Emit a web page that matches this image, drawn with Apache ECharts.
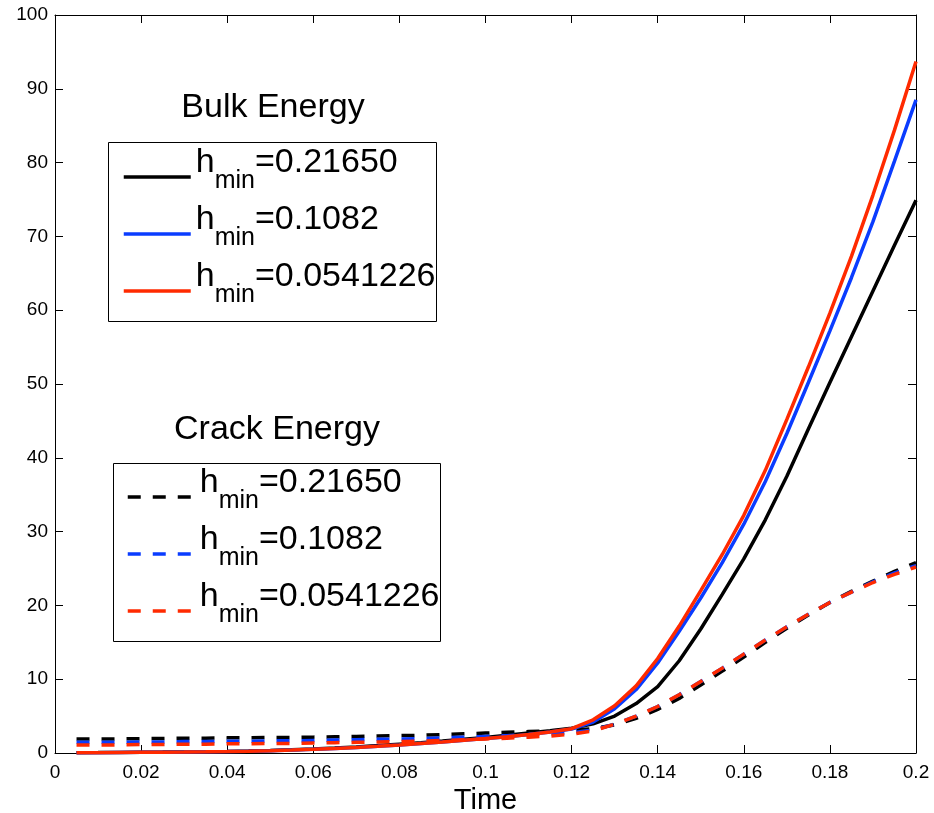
<!DOCTYPE html>
<html><head><meta charset="utf-8">
<script src="https://cdn.jsdelivr.net/npm/echarts@6/dist/echarts.min.js"></script>
<style>html,body{margin:0;padding:0;background:#fff}#c{width:934px;height:813px}</style>
</head><body><div id="c"></div>
<script>
const times = [0.005,0.01,0.015,0.02,0.025,0.03,0.035,0.04,0.045,0.05,0.055,0.06,0.065,0.07,0.075,0.08,0.085,0.09,0.095,0.1,0.105,0.11,0.115,0.12,0.125,0.13,0.135,0.14,0.145,0.15,0.155,0.16,0.165,0.17,0.175,0.18,0.185,0.19,0.195,0.2];
const bulkBlack = [0.05,0.06,0.08,0.10,0.12,0.15,0.18,0.22,0.28,0.35,0.44,0.55,0.68,0.83,1.0,1.2,1.4,1.62,1.85,2.1,2.4,2.7,3.0,3.35,3.95,5.0,6.7,9.0,12.5,16.8,21.5,26.3,31.6,37.5,43.9,50.2,56.4,62.6,68.8,74.9];
const bulkBlue = [0.04,0.05,0.07,0.09,0.11,0.13,0.16,0.2,0.25,0.32,0.4,0.5,0.62,0.76,0.92,1.1,1.3,1.5,1.72,1.95,2.2,2.5,2.85,3.25,4.2,6.0,8.6,12.2,16.5,21.0,25.8,31.0,36.8,43.3,50.2,57.2,64.4,72.0,80.2,88.5];
const bulkRed = [0.04,0.05,0.07,0.09,0.11,0.13,0.16,0.2,0.25,0.32,0.4,0.5,0.62,0.76,0.92,1.1,1.3,1.5,1.72,1.95,2.2,2.5,2.85,3.3,4.5,6.4,9.1,12.8,17.2,22.0,26.9,32.2,38.3,45.2,52.3,59.6,67.3,75.6,84.4,93.7];
const crackBlack = [1.9,1.9,1.9,1.95,1.95,2.0,2.0,2.05,2.05,2.1,2.1,2.15,2.2,2.25,2.3,2.35,2.4,2.5,2.6,2.7,2.8,2.9,3.0,3.1,3.3,3.8,4.7,5.9,7.4,9.2,11.1,13.0,15.0,16.9,18.7,20.4,21.9,23.3,24.6,25.8];
const crackBlue = [1.45,1.45,1.45,1.5,1.5,1.55,1.55,1.6,1.6,1.65,1.65,1.7,1.75,1.8,1.85,1.9,1.95,2.05,2.15,2.25,2.35,2.5,2.6,2.75,3.1,3.9,5.0,6.3,7.9,9.7,11.5,13.4,15.3,17.1,18.8,20.4,21.8,23.2,24.4,25.4];
const crackRed = [1.1,1.1,1.1,1.15,1.15,1.2,1.2,1.25,1.25,1.3,1.3,1.35,1.4,1.45,1.5,1.55,1.6,1.7,1.8,1.9,2.0,2.15,2.3,2.55,3.0,3.9,5.0,6.3,7.9,9.7,11.5,13.4,15.3,17.1,18.8,20.4,21.8,23.1,24.2,25.2];
const hminLabels = ['0.21650','0.1082','0.0541226'];
const xTickLabels = ['0','0.02','0.04','0.06','0.08','0.1','0.12','0.14','0.16','0.18','0.2'];
const yTickLabels = ['0','10','20','30','40','50','60','70','80','90','100'];
const bulkTitle = 'Bulk Energy';
const crackTitle = 'Crack Energy';
const xName = 'Time';

const colors = ['#000000','#0a3cff','#ff2a00'];
const FONT = 'Liberation Sans, Arial, Helvetica, sans-serif';
const pair = arr => times.map((t,i)=>[t,arr[i]]);
const bulkSets = [bulkBlack,bulkBlue,bulkRed];
const crackSets = [crackBlack,crackBlue,crackRed];
const bulkNames = hminLabels.map(h=>'bulk h_min=' + h);
const crackNames = hminLabels.map(h=>'crack h_min=' + h);
const nameToLabel = {};
hminLabels.forEach((h,i)=>{nameToLabel[bulkNames[i]] = h; nameToLabel[crackNames[i]] = h;});

const series = [];
bulkSets.forEach((d,i)=>series.push({name:bulkNames[i],type:'line',data:pair(d),symbol:'none',
  lineStyle:{color:colors[i],width:3.5},itemStyle:{color:colors[i]},z:2+i,animation:false}));
crackSets.forEach((d,i)=>series.push({name:crackNames[i],type:'line',data:pair(d),symbol:'none',
  lineStyle:{color:colors[i],width:3.5,type:[13,12]},itemStyle:{color:colors[i]},z:2+i,animation:false}));

const rich = {
  h:{fontSize:34,fontFamily:FONT,color:'#000',lineHeight:12},
  s:{fontSize:25,fontFamily:FONT,color:'#000',lineHeight:12,padding:[37,0,0,0]}
};
function legendCfg(names,left,top){
  return {
    data:names, orient:'vertical', left:left, top:top,
    borderWidth:0, backgroundColor:'transparent',
    padding:[4,10,13,14], itemWidth:67, itemHeight:20, itemGap:-5,
    selectedMode:false, z:6,
    itemStyle:{color:'rgba(0,0,0,0)',opacity:0,borderWidth:0},
    lineStyle:{width:3.5},
    formatter: n => '{h|h}{s|min}{h|=' + nameToLabel[n] + '}',
    textStyle:{rich:rich, padding:[0,0,28,0]}
  };
}

const axisCommon = {
  min:0, axisLine:{show:true,onZero:false,lineStyle:{color:'#000',width:1}},
  axisTick:{show:true,inside:true,length:8,lineStyle:{color:'#000'}},
  splitLine:{show:false}
};
const chart = echarts.init(document.getElementById('c'),null,{renderer:'canvas'});
chart.setOption({
  animation:false,
  backgroundColor:'#fff',
  grid:{left:55,right:18,top:15,bottom:60,containLabel:false,outerBoundsMode:'none'},
  title:[
    {text:bulkTitle,left:268,top:86,textAlign:'center',textStyle:{fontSize:34,fontWeight:'normal',fontFamily:FONT,color:'#000'}},
    {text:crackTitle,left:272,top:408,textAlign:'center',textStyle:{fontSize:34,fontWeight:'normal',fontFamily:FONT,color:'#000'}}
  ],
  graphic:[
    {type:'rect',z:5,shape:{x:108.5,y:142.5,width:328,height:179},style:{fill:'#fff',stroke:'#000',lineWidth:1}},
    {type:'rect',z:5,shape:{x:113.5,y:463.5,width:327,height:178},style:{fill:'#fff',stroke:'#000',lineWidth:1}}
  ],
  legend:[legendCfg(bulkNames,108,128),legendCfg(crackNames,112,448)],
  xAxis:[
    Object.assign({},axisCommon,{type:'value',max:0.2,interval:0.02,position:'bottom',
      axisLabel:{show:true,margin:10,fontSize:19,fontFamily:FONT,color:'#000',
        formatter:(v)=>xTickLabels[Math.round(v/0.02)]},
      name:xName,nameLocation:'middle',nameGap:33,
      nameTextStyle:{fontSize:29,fontFamily:FONT,color:'#000'}}),
    Object.assign({},axisCommon,{type:'value',max:0.2,interval:0.02,position:'top',axisLabel:{show:false}})
  ],
  yAxis:[
    Object.assign({},axisCommon,{type:'value',max:100,interval:10,position:'left',
      axisLabel:{show:true,margin:7,fontSize:19,fontFamily:FONT,color:'#000',
        formatter:(v)=>yTickLabels[Math.round(v/10)]}}),
    Object.assign({},axisCommon,{type:'value',max:100,interval:10,position:'right',axisLabel:{show:false}})
  ],
  series:series
});
</script></body></html>
